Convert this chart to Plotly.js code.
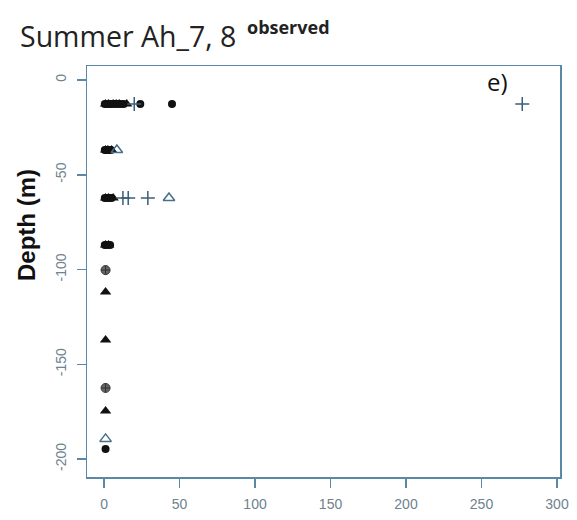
<!DOCTYPE html>
<html>
<head>
<meta charset="utf-8">
<script src="https://cdn.plot.ly/plotly-3.0.1.min.js"></script>
<style>html,body{margin:0;padding:0;background:#fff;}#chart{width:577px;height:520px;}</style>
</head>
<body>
<div id="chart"></div>
<script>
// Filled circles
const circX = [0.5, 2, 3.5, 5, 7, 9, 11, 13, 24, 45,  0.5, 1.5, 3, 4.5,  0.5, 2, 3.5, 5,  0.5, 2, 4,  1];
const circY = [-12.7,-12.7,-12.7,-12.7,-12.7,-12.7,-12.7,-12.7,-12.7,-12.7, -36.9,-36.9,-36.9,-36.9, -62.3,-62.3,-62.3,-62.3, -87,-87,-87, -194.7];
// Filled triangles
const triX = [1, 3, 6, 8, 10, 15,  1, 2.5, 5,  1, 3, 6,  1, 3,  1,  1,  1];
const triY = [-12.7,-12.7,-12.7,-12.7,-12.7,-12.7, -36.9,-36.9,-36.9, -62.3,-62.3,-62.3, -87,-87, -111.9, -137.2, -174.7];
// Open triangles
const otriX = [8.5, 43, 1];
const otriY = [-36.9, -62.3, -189.4];
// Plus signs
const plusX = [20, 277, 12.5, 16, 29];
const plusY = [-12.7, -12.7, -62.3, -62.3, -62.3];
// Circle with plus
const cplusX = [1, 1];
const cplusY = [-100.3, -162.5];

const xTicks = [0, 50, 100, 150, 200, 250, 300];
const yTicks = [0, -50, -100, -150, -200];

const lineCol = '#5b88a6';
const tickFont = {family: 'Liberation Sans, Arial, sans-serif', size: 14, color: '#6e8290'};

const traces = [
  {x: circX, y: circY, type: 'scatter', mode: 'markers', marker: {symbol: 'circle', size: 8, color: '#111'}},
  {x: triX, y: triY, type: 'scatter', mode: 'markers', marker: {symbol: 'triangle-up', size: 10, color: '#111'}},
  {x: otriX, y: otriY, type: 'scatter', mode: 'markers', marker: {symbol: 'triangle-up-open', size: 10, color: '#4a6f88', line: {width: 1.5, color: '#4a6f88'}}},
  {x: plusX, y: plusY, type: 'scatter', mode: 'markers', marker: {symbol: 'cross-thin-open', size: 10, color: '#3b5f78', line: {width: 1.5, color: '#3b5f78'}}},
  {x: cplusX, y: cplusY, type: 'scatter', mode: 'markers', marker: {symbol: 'circle-cross', size: 9, color: '#666', line: {width: 1, color: '#333'}}}
];

const layout = {
  width: 577, height: 520,
  margin: {l: 87, r: 17, t: 66, b: 43},
  paper_bgcolor: '#fff', plot_bgcolor: '#fff',
  showlegend: false,
  title: {
    text: 'Summer Ah_7, 8',
    font: {family: 'Open Sans, sans-serif', size: 28.5, color: '#222'},
    x: 20/577, xanchor: 'left', xref: 'container',
    y: 1 - 37/520, yanchor: 'middle', yref: 'container'
  },
  xaxis: {
    range: [-11.3, 302], tickvals: xTicks, ticktext: xTicks.map(String),
    showgrid: false, zeroline: false, showline: true, mirror: true,
    linecolor: lineCol, linewidth: 1.5,
    ticks: 'outside', ticklen: 9, tickwidth: 1.5, tickcolor: lineCol,
    tickfont: tickFont, ticklabelstandoff: 5
  },
  yaxis: {
    range: [-209.5, 7.4], tickvals: yTicks, ticktext: yTicks.map(String),
    showgrid: false, zeroline: false, showline: true, mirror: true,
    linecolor: lineCol, linewidth: 1.5,
    ticks: 'outside', ticklen: 9, tickwidth: 1.5, tickcolor: lineCol,
    tickfont: tickFont, tickangle: -90, ticklabelstandoff: 5
  },
  annotations: [
    {text: 'observed', showarrow: false, xref: 'paper', yref: 'paper',
     x: (245 - 87) / 473, y: (477 - 27) / 411, xanchor: 'left', yanchor: 'middle',
     font: {family: 'Open Sans, sans-serif', size: 18, color: '#222', weight: 'bold'}},
    {text: 'Depth (m)', textangle: -90, showarrow: false,
     xref: 'paper', yref: 'paper', x: (26 - 87) / 473, y: (477 - 225) / 411,
     xanchor: 'center', yanchor: 'middle',
     font: {family: 'Liberation Sans, Arial, sans-serif', size: 24, color: '#111', weight: 'bold'}},
    {text: 'e)', showarrow: false, xref: 'paper', yref: 'paper',
     x: (497 - 87) / 473, y: (477 - 82) / 411, xanchor: 'center', yanchor: 'middle',
     font: {family: 'Open Sans, sans-serif', size: 24, color: '#111'}}
  ]
};

Plotly.newPlot('chart', traces, layout, {displayModeBar: false, staticPlot: true});
</script>
</body>
</html>
